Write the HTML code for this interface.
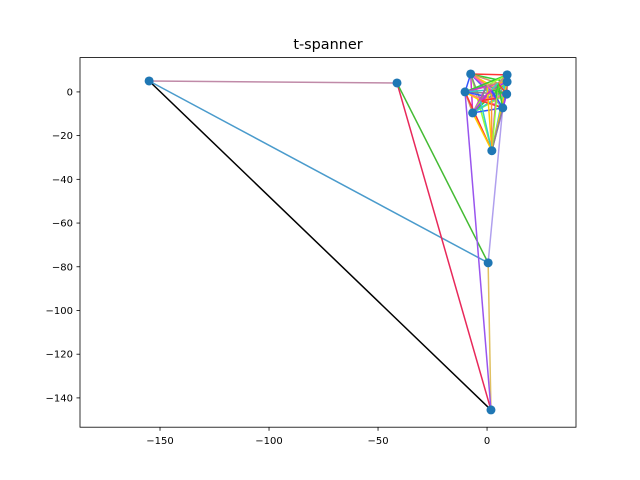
<!DOCTYPE html>
<html><head><meta charset="utf-8"><style>
body{margin:0;background:#fff;}
svg{display:block;font-family:"DejaVu Sans","Liberation Sans",sans-serif;}
</style></head><body>
<svg id="chart" width="640" height="480" viewBox="0 0 640 480" xmlns="http://www.w3.org/2000/svg">
<rect width="640" height="480" fill="#fff"/>
<text x="328" y="49" text-anchor="middle" font-size="14.4">t-spanner</text>
<g id="edges"></g><g id="pts"></g><g id="ticks"></g>
<rect x="80" y="57.6" width="496" height="369.6" fill="none" stroke="#000" stroke-width="0.8"/>
</svg>
<script>
const xs = [-155, -41.3, 0.5, 1.8, -7.5, 9.2, 9.2, -10.1, 9.0, -6.6, 7.2, 2.2, 0, 4, -3, 5, 2];
const ys = [5, 4.1, -78.2, -145.5, 8.2, 7.8, 4.6, 0, -1, -9.6, -7.3, -26.9, 3, -3, -4, 4, 1];
const edgesA = [0, 0, 0, 1, 1, 2, 7, 10];
const edgesB = [1, 3, 2, 3, 2, 3, 3, 2];
const edgeColors = ["#c08aa8", "#000000", "#4a9bcc", "#e8285a", "#44bb33", "#e0c060", "#9955ee", "#b0a0ee"];
const xTicks = [-150, -100, -50, 0];
const yTicks = [0, -20, -40, -60, -80, -100, -120, -140];
const xMin = -186.7, xMax = 40.8, yMin = -153.4, yMax = 15.7;
const L = 80, R = 576, T = 57.6, B = 427.2;
const X = v => L + (v - xMin) / (xMax - xMin) * (R - L);
const Y = v => B - (v - yMin) / (yMax - yMin) * (B - T);
const NS = "http://www.w3.org/2000/svg";
const eg = document.getElementById("edges"), pg = document.getElementById("pts"), tg = document.getElementById("ticks");
function line(g, a, b, c, w) {
  const l = document.createElementNS(NS, "line");
  l.setAttribute("x1", X(xs[a])); l.setAttribute("y1", Y(ys[a]));
  l.setAttribute("x2", X(xs[b])); l.setAttribute("y2", Y(ys[b]));
  l.setAttribute("stroke", c); l.setAttribute("stroke-width", w);
  
  
  g.appendChild(l);
}
for (let i = 0; i < edgesA.length; i++) line(eg, edgesA[i], edgesB[i], edgeColors[i], 1.5);
const pal = ["#ff3333","#33cc33","#3355ff","#ffcc00","#cc33cc","#33cccc","#99ff33","#ff9933","#9933ff","#888888","#cc9966","#ff66aa"];
let k = 0;
for (let a = 4; a < xs.length; a++) for (let b = a + 1; b < xs.length; b++) { line(eg, a, b, pal[k % pal.length], 1.5); k++; }
for (let i = 0; i < 12; i++) {
  const c = document.createElementNS(NS, "circle");
  c.setAttribute("cx", X(xs[i])); c.setAttribute("cy", Y(ys[i])); c.setAttribute("r", 4.5);
  c.setAttribute("fill", "#1f77b4");
  
  
  pg.insertBefore(c, pg.firstChild);
}
for (const t of xTicks) {
  const x = X(t);
  const l = document.createElementNS(NS, "line");
  l.setAttribute("x1", x); l.setAttribute("x2", x); l.setAttribute("y1", B); l.setAttribute("y2", B + 3.5);
  l.setAttribute("stroke", "#000"); l.setAttribute("stroke-width", 0.8);
  
  
  tg.appendChild(l);
  const s = document.createElementNS(NS, "text");
  s.setAttribute("x", x); s.setAttribute("y", B + 17); s.setAttribute("text-anchor", "middle"); s.setAttribute("font-size", "10");
  s.textContent = String(t).replace("-", "\u2212");
  
  
  tg.appendChild(s);
}
for (const t of yTicks) {
  const y = Y(t);
  const l = document.createElementNS(NS, "line");
  l.setAttribute("x1", L - 3.5); l.setAttribute("x2", L); l.setAttribute("y1", y); l.setAttribute("y2", y);
  l.setAttribute("stroke", "#000"); l.setAttribute("stroke-width", 0.8);
  
  
  tg.appendChild(l);
  const s = document.createElementNS(NS, "text");
  s.setAttribute("x", L - 7); s.setAttribute("y", y + 3.5); s.setAttribute("text-anchor", "end"); s.setAttribute("font-size", "10");
  s.textContent = String(t).replace("-", "\u2212");
  
  
  tg.appendChild(s);
}
</script>
</body></html>
